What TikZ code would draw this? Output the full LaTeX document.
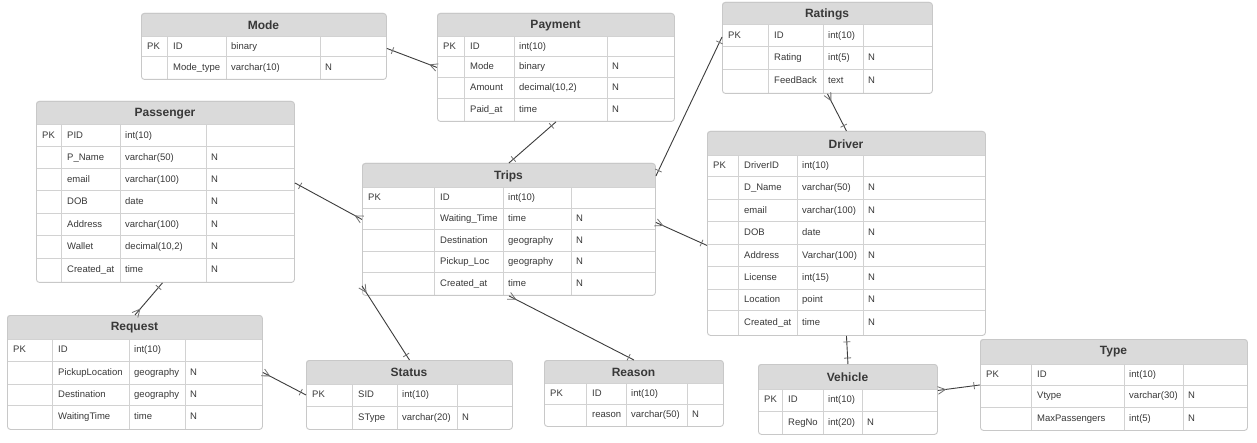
\documentclass[tikz,border=0pt]{standalone}
\usepackage{fontspec}
\setmainfont{Liberation Sans}
\usetikzlibrary{calc}
\definecolor{hdr}{HTML}{DADADA}
\definecolor{grid}{HTML}{D2D2D2}
\definecolor{boxline}{HTML}{C8C8C8}
\definecolor{txt}{HTML}{383838}
\definecolor{lnk}{HTML}{3C3C3C}
\definecolor{mark}{HTML}{707070}
\tikzset{
  conn/.style={draw=lnk, line width=0.9pt},
  ermark/.style={draw=mark, line width=0.8pt},
  cell/.style={anchor=west, inner sep=0pt, text=txt, text height=7pt, text depth=2pt, font=\fontsize{9.5}{11}\selectfont},
  ttl/.style={inner sep=0pt, text=txt, font=\bfseries\fontsize{12}{14}\selectfont},
  gridline/.style={draw=grid, line width=1pt},
  tblbox/.style={draw=boxline, line width=0.9pt, rounded corners=3pt, inner sep=0pt, anchor=north west},
}
\newcounter{cellc}
% name, L, T, R, H (header bottom), B, title
\newcommand{\ertable}[7]{%
  \def\tL{#2}\def\tT{#3}\def\tR{#4}\def\tH{#5}\def\tB{#6}%
  \fill[white, rounded corners=3pt] (#2,#3) rectangle (#4,#6);
  \begin{scope}
    \clip (#2,#3) rectangle (#4,#5);
    \fill[hdr, rounded corners=3pt] (#2,#3) rectangle (#4,#6);
  \end{scope}
  \node[ttl] (#1-title) at ({(#2+#4)/2},{(#3+#5)/2+0.5}) {#7};
}
\newcommand{\erframe}[1]{%
  \node[tblbox, minimum width={\tR pt-\tL pt}, minimum height={\tB pt-\tT pt}] (#1) at (\tL,\tT) {};
}
\newcommand{\ercols}[3]{%
  \def\cA{#1}\def\cB{#2}\def\cC{#3}%
  \foreach \c in {#1,#2,#3} \draw[gridline] (\c,\tH) -- (\c,\tB);
}
\newcommand{\erhlines}[1]{%
  \foreach \yy in {#1} \draw[gridline] (\tL,\yy) -- (\tR,\yy);
}
% y center, pk, name, type, null
\newcommand{\ercells}[5]{%
  \stepcounter{cellc}%
  \node[cell] (cell\arabic{cellc}a) at (\tL+6,#1) {#2};
  \node[cell] (cell\arabic{cellc}b) at (\cA+6,#1) {#3};
  \node[cell] (cell\arabic{cellc}c) at (\cB+5,#1) {#4};
  \node[cell] (cell\arabic{cellc}d) at (\cC+5,#1) {#5};
}
\newcommand{\mkone}[2]{%
  \draw[ermark] ($(#1)!6pt!(#2)!3.5pt!90:(#2)$) -- ($(#1)!6pt!(#2)!3.5pt!-90:(#2)$);
}
\newcommand{\mkmany}[2]{%
  \draw[ermark] ($(#1)!3.8pt!90:(#2)$) -- ($(#1)!7.5pt!(#2)$) -- ($(#1)!3.8pt!-90:(#2)$);
}
\newcommand{\erlink}[4]{%
  \draw[conn] (#1) -- (#2);
  \csname mk#3\endcsname{#1}{#2}%
  \csname mk#4\endcsname{#2}{#1}%
}
\begin{document}
\begin{tikzpicture}[x=1pt,y=-1pt]
\useasboundingbox (0,0) rectangle (1257,443);
\fill[white] (0,0) rectangle (1257,443);

% Mode
\ertable{mode}{141}{13}{386}{37}{79}{Mode}
\erhlines{37,57}
\ercols{167}{226}{320}
\ercells{47}{PK}{ID}{binary}{}
\ercells{68}{}{Mode\_type}{varchar(10)}{N}
\erframe{mode}

% Payment
\ertable{payment}{437}{13}{674}{37}{121}{Payment}
\erhlines{37,57,78,99}
\ercols{464}{514}{607}
\ercells{47}{PK}{ID}{int(10)}{}
\ercells{67.5}{}{Mode}{binary}{N}
\ercells{88.5}{}{Amount}{decimal(10,2)}{N}
\ercells{110}{}{Paid\_at}{time}{N}
\erframe{payment}

% Ratings
\ertable{ratings}{722}{2}{932}{25}{93}{Ratings}
\erhlines{25,47,70}
\ercols{768}{823}{863}
\ercells{36}{PK}{ID}{int(10)}{}
\ercells{58.5}{}{Rating}{int(5)}{N}
\ercells{81.5}{}{FeedBack}{text}{N}
\erframe{ratings}

% Passenger
\ertable{passenger}{36}{101}{294}{125}{282}{Passenger}
\erhlines{125,147,169,191,214,236,259}
\ercols{61}{120}{206}
\ercells{136}{PK}{PID}{int(10)}{}
\ercells{158}{}{P\_Name}{varchar(50)}{N}
\ercells{180}{}{email}{varchar(100)}{N}
\ercells{202.5}{}{DOB}{date}{N}
\ercells{225}{}{Address}{varchar(100)}{N}
\ercells{247.5}{}{Wallet}{decimal(10,2)}{N}
\ercells{270.5}{}{Created\_at}{time}{N}
\erframe{passenger}

% Trips
\ertable{trips}{362}{163}{655}{188}{295}{Trips}
\erhlines{188,209,230,252,273}
\ercols{434}{503}{571}
\ercells{198.5}{PK}{ID}{int(10)}{}
\ercells{219.5}{}{Waiting\_Time}{time}{N}
\ercells{241}{}{Destination}{geography}{N}
\ercells{262.5}{}{Pickup\_Loc}{geography}{N}
\ercells{284}{}{Created\_at}{time}{N}
\erframe{trips}

% Driver
\ertable{driver}{707}{131}{985}{156}{335}{Driver}
\erhlines{156,177,200,222,245,267,290,311}
\ercols{738}{797}{863}
\ercells{166.5}{PK}{DriverID}{int(10)}{}
\ercells{188.5}{}{D\_Name}{varchar(50)}{N}
\ercells{211}{}{email}{varchar(100)}{N}
\ercells{233.5}{}{DOB}{date}{N}
\ercells{256}{}{Address}{Varchar(100)}{N}
\ercells{278.5}{}{License}{int(15)}{N}
\ercells{300.5}{}{Location}{point}{N}
\ercells{323}{}{Created\_at}{time}{N}
\erframe{driver}

% Request
\ertable{request}{7}{315}{262}{339}{429}{Request}
\erhlines{339,361,384,405}
\ercols{52}{129}{185}
\ercells{350}{PK}{ID}{int(10)}{}
\ercells{372.5}{}{PickupLocation}{geography}{N}
\ercells{394.5}{}{Destination}{geography}{N}
\ercells{417}{}{WaitingTime}{time}{N}
\erframe{request}

% Status
\ertable{status}{306}{360}{512}{384}{429}{Status}
\erhlines{384,406}
\ercols{352}{397}{457}
\ercells{395}{PK}{SID}{int(10)}{}
\ercells{417.5}{}{SType}{varchar(20)}{N}
\erframe{status}

% Reason
\ertable{reason}{544}{360}{723}{383}{426}{Reason}
\erhlines{383,404}
\ercols{586}{626}{687}
\ercells{393.5}{PK}{ID}{int(10)}{}
\ercells{415}{}{reason}{varchar(50)}{N}
\erframe{reason}

% Vehicle
\ertable{vehicle}{758}{364}{937}{389}{434}{Vehicle}
\erhlines{389,411}
\ercols{782}{823}{862}
\ercells{400}{PK}{ID}{int(10)}{}
\ercells{422.5}{}{RegNo}{int(20)}{N}
\erframe{vehicle}

% Type
\ertable{type}{980}{339}{1247}{364}{430}{Type}
\erhlines{364,385,407}
\ercols{1031}{1124}{1183}
\ercells{374.5}{PK}{ID}{int(10)}{}
\ercells{396}{}{Vtype}{varchar(30)}{N}
\ercells{418.5}{}{MaxPassengers}{int(5)}{N}
\erframe{type}

% connector end points
\coordinate (modeR) at ([yshift=-2pt]mode.east);
\coordinate (payL) at (payment.west);
\coordinate (payB) at (payment.south);
\coordinate (tripsT) at (trips.north);
\coordinate (ratL) at ([yshift=-35pt]ratings.north west);
\coordinate (tripsTR) at ([yshift=-13pt]trips.north east);
\coordinate (ratB) at (ratings.south);
\coordinate (drvT) at (driver.north);
\coordinate (pasR) at ([yshift=9pt]passenger.east);
\coordinate (tripsL) at ([yshift=10pt]trips.west);
\coordinate (tripsR) at ([yshift=7pt]trips.east);
\coordinate (drvL) at ([yshift=-12pt]driver.west);
\coordinate (tripsBL) at ([yshift=10pt]trips.south west);
\coordinate (statT) at (status.north);
\coordinate (tripsB) at (trips.south);
\coordinate (reaT) at (reason.north);
\coordinate (pasB) at ([xshift=-3pt]passenger.south);
\coordinate (reqT) at (request.north);
\coordinate (reqR) at (request.east);
\coordinate (statL) at (status.west);
\coordinate (drvB) at (driver.south);
\coordinate (vehT) at (vehicle.north);
\coordinate (vehR) at ([yshift=9pt]vehicle.east);
\coordinate (typL) at (type.west);

\erlink{modeR}{payL}{one}{many}
\erlink{payB}{tripsT}{one}{one}
\erlink{ratL}{tripsTR}{one}{one}
\erlink{ratB}{drvT}{many}{one}
\erlink{pasR}{tripsL}{one}{many}
\erlink{tripsR}{drvL}{many}{one}
\erlink{tripsBL}{statT}{many}{one}
\erlink{tripsB}{reaT}{many}{one}
\erlink{pasB}{reqT}{one}{many}
\erlink{reqR}{statL}{many}{one}
\erlink{drvB}{vehT}{one}{one}
\erlink{vehR}{typL}{many}{one}
\end{tikzpicture}
\end{document}
